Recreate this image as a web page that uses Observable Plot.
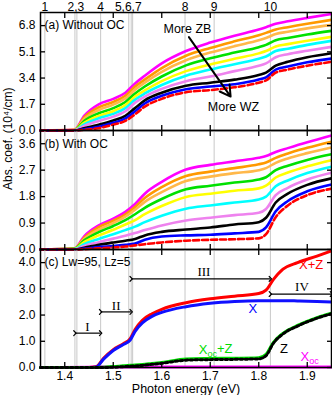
<!DOCTYPE html>
<html><head><meta charset="utf-8">
<script src="https://cdn.jsdelivr.net/npm/d3@7"></script>
<script src="https://cdn.jsdelivr.net/npm/@observablehq/plot@0.6"></script>
<style>
body{margin:0;background:#fff;}
#chart{position:relative;width:332px;height:395px;}
#chart svg{position:absolute;left:0;overflow:visible;}
</style></head><body><div id="chart"></div>
<script>
// ---------- shared axes / reference lines ----------
const xDomain = [1.35, 1.95];
const xTicks = [1.4, 1.5, 1.6, 1.7, 1.8, 1.9];
const gridLines = [1.359, 1.421, 1.425, 1.474, 1.532, 1.537, 1.540, 1.648, 1.708, 1.824];
const topLabels = ["1", "2,3", "4", "5,6,7", "8", "9", "10"];
const topLabelE = [1.359, 1.423, 1.474, 1.531, 1.648, 1.708, 1.824];

// ---------- panels (a) and (b): energies ----------
const energyAB = [1.35, 1.42, 1.44, 1.47, 1.50, 1.525, 1.545, 1.565, 1.60, 1.65, 1.70, 1.75, 1.80, 1.815, 1.835, 1.86, 1.90, 1.95];

// panel (a) Without OC
const a_magenta = [0, 0.05, 0.95, 1.70, 2.05, 2.45, 3.05, 3.55, 4.35, 5.15, 5.70, 6.15, 6.55, 6.70, 6.92, 7.08, 7.30, 7.55];
const a_orange  = [0, 0.04, 0.85, 1.50, 1.85, 2.25, 2.85, 3.30, 4.05, 4.85, 5.35, 5.78, 6.18, 6.33, 6.55, 6.70, 6.92, 7.17];
const a_gold    = [0, 0.03, 0.75, 1.33, 1.68, 2.08, 2.65, 3.10, 3.80, 4.55, 5.05, 5.47, 5.85, 6.00, 6.25, 6.40, 6.62, 6.85];
const a_green   = [0, 0.02, 0.62, 1.12, 1.45, 1.85, 2.40, 2.85, 3.50, 4.22, 4.68, 5.05, 5.40, 5.55, 5.85, 6.00, 6.22, 6.46];
const a_yellow  = [0, 0.02, 0.50, 0.95, 1.25, 1.65, 2.20, 2.60, 3.20, 3.85, 4.28, 4.65, 5.00, 5.15, 5.45, 5.60, 5.82, 6.07];
const a_cyan    = [0, 0.01, 0.40, 0.80, 1.08, 1.45, 2.00, 2.40, 2.95, 3.55, 3.95, 4.30, 4.65, 4.80, 5.15, 5.30, 5.55, 5.81];
const a_violet  = [0, 0.01, 0.30, 0.62, 0.90, 1.25, 1.80, 2.20, 2.70, 3.20, 3.50, 3.85, 4.20, 4.35, 4.75, 4.95, 5.17, 5.42];
const a_black   = [0, 0, 0.15, 0.38, 0.65, 0.95, 1.45, 1.95, 2.45, 2.90, 3.10, 3.30, 3.60, 3.75, 4.20, 4.45, 4.75, 5.01];
const a_blue    = [0, 0, 0.08, 0.25, 0.50, 0.78, 1.25, 1.75, 2.25, 2.68, 2.85, 3.00, 3.30, 3.45, 3.95, 4.15, 4.42, 4.66];
const a_red     = [0, 0, 0.04, 0.15, 0.38, 0.62, 1.05, 1.55, 2.05, 2.48, 2.62, 2.80, 3.10, 3.25, 3.75, 3.95, 4.20, 4.45];

// panel (b) With OC
const b_magenta = [0, 0.03, 0.45, 0.82, 1.05, 1.28, 1.55, 1.90, 2.30, 2.72, 2.88, 3.00, 3.12, 3.18, 3.32, 3.45, 3.65, 3.88];
const b_orange  = [0, 0.03, 0.40, 0.76, 0.98, 1.20, 1.45, 1.75, 2.12, 2.50, 2.65, 2.77, 2.90, 2.96, 3.12, 3.27, 3.46, 3.67];
const b_gold    = [0, 0.02, 0.36, 0.68, 0.90, 1.12, 1.35, 1.62, 1.95, 2.33, 2.48, 2.60, 2.70, 2.77, 2.95, 3.10, 3.28, 3.47];
const b_green   = [0, 0.02, 0.31, 0.59, 0.80, 1.00, 1.20, 1.42, 1.72, 2.05, 2.17, 2.28, 2.38, 2.46, 2.70, 2.85, 3.05, 3.24];
const b_yellow  = [0, 0.01, 0.25, 0.48, 0.67, 0.85, 1.00, 1.20, 1.48, 1.79, 1.90, 2.00, 2.08, 2.17, 2.45, 2.62, 2.83, 3.04];
const b_cyan    = [0, 0.01, 0.18, 0.36, 0.52, 0.66, 0.78, 0.93, 1.15, 1.39, 1.50, 1.60, 1.70, 1.80, 2.15, 2.35, 2.60, 2.82];
const b_violet  = [0, 0, 0.12, 0.25, 0.37, 0.47, 0.56, 0.66, 0.82, 0.99, 1.08, 1.17, 1.25, 1.38, 1.85, 2.10, 2.38, 2.61];
const b_black   = [0, 0, 0.06, 0.16, 0.24, 0.30, 0.36, 0.48, 0.60, 0.68, 0.75, 0.85, 0.93, 1.08, 1.60, 1.90, 2.20, 2.42];
const b_blue    = [0, 0, 0.03, 0.08, 0.12, 0.16, 0.20, 0.33, 0.44, 0.48, 0.50, 0.55, 0.60, 0.75, 1.30, 1.65, 1.98, 2.21];
const b_red     = [0, 0, 0.01, 0.04, 0.07, 0.10, 0.14, 0.18, 0.24, 0.30, 0.33, 0.35, 0.38, 0.52, 1.10, 1.50, 1.85, 2.07];

const seriesColors = ["#ff00ff", "#ff9900", "#ffb84a", "#00e000", "#ffff00", "#00ffff", "#ee82ee", "#000000", "#0000ff", "#ff0000"];

// ---------- panel (c) Lw=95, Lz=5 ----------
const energyC = [1.35, 1.45, 1.465, 1.48, 1.50, 1.52, 1.535, 1.545, 1.56, 1.58, 1.60, 1.65, 1.70, 1.75, 1.80, 1.815, 1.83, 1.85, 1.88, 1.92, 1.95];
const c_XZ   = [0, 0, 0.03, 0.35, 0.68, 0.90, 1.10, 1.45, 1.80, 2.05, 2.22, 2.47, 2.62, 2.72, 2.82, 2.95, 3.35, 3.75, 4.00, 4.25, 4.45];
const c_X    = [0, 0, 0.02, 0.32, 0.65, 0.87, 1.05, 1.38, 1.70, 1.95, 2.10, 2.32, 2.45, 2.52, 2.55, 2.55, 2.55, 2.55, 2.54, 2.52, 2.50];
const c_XocZ = [0, 0, 0, 0.01, 0.03, 0.06, 0.08, 0.09, 0.11, 0.15, 0.19, 0.32, 0.34, 0.35, 0.37, 0.50, 0.95, 1.30, 1.60, 1.90, 2.07];
const c_Z    = [0, 0, 0, 0, 0.01, 0.03, 0.05, 0.06, 0.08, 0.12, 0.16, 0.28, 0.30, 0.31, 0.33, 0.45, 0.92, 1.28, 1.58, 1.88, 2.05];
const c_Xoc  = [0, 0.01, 0.02, 0.02, 0.02, 0.02, 0.02, 0.02, 0.02, 0.02, 0.02, 0.02, 0.02, 0.02, 0.02, 0.02, 0.02, 0.02, 0.02, 0.02, 0.02];

const yTicksA = [0, 1.7, 3.4, 5.1, 6.8];
const yTicksB = [0, 0.9, 1.8, 2.7, 3.6];
const yTicksC = [0, 1, 2, 3, 4];

// annotations
const arrowA = [{x1: 1.656, y1: 6.05, x2: 1.742, y2: 2.2}];
const textA = [{E: 1.653, v: 6.56, t: "More ZB"}, {E: 1.748, v: 1.51, t: "More WZ"}];
const rangesC = [
  {e1: 1.421, e2: 1.474, v: 1.31, t: "I", te: 1.447, tv: 1.55},
  {e1: 1.474, e2: 1.537, v: 2.12, t: "II", te: 1.506, tv: 2.36},
  {e1: 1.537, e2: 1.824, v: 3.38, t: "III", te: 1.687, tv: 3.64},
  {e1: 1.824, e2: 1.950, v: 2.80, t: "IV", te: 1.889, tv: 3.08}
];
const labelsC = [
  {E: 1.908, v: 3.90, t: "X+Z", c: "#ff0000", a: "middle"},
  {E: 1.788, v: 2.25, t: "X", c: "#0000ff", a: "middle"},
  {E: 1.711, v: 0.68, t: "X_oc+Z", c: "#00dd00", a: "start"},
  {E: 1.852, v: 0.71, t: "Z", c: "#000000", a: "middle"},
  {E: 1.905, v: 0.40, t: "X_oc", c: "#ff00ff", a: "start"}
];

// ---------- helpers ----------
const toRows = (E, vals) => E.map((e, i) => ({E: e, v: vals[i]}));
const FONT = "Liberation Sans, Arial, sans-serif";

function panel({yDomain, yTicks, height, marginTop, marginBottom, marks, xLabels}) {
  return Plot.plot({
    width: 332, height, marginLeft: 40, marginRight: 1, marginTop, marginBottom,
    x: {domain: xDomain, label: null},
    y: {domain: yDomain, label: null},
    style: {fontFamily: FONT, fontSize: "12px", background: "transparent", overflow: "visible", color: "black"},
    marks: [
      Plot.ruleX(gridLines, {stroke: "#c8c8c8", strokeWidth: 1}),
      ...marks,
      Plot.frame({stroke: "black", strokeWidth: 1.5}),
      Plot.axisX({anchor: "bottom", ticks: xTicks, tickSize: -5, tickPadding: 9, strokeWidth: 1.3,
                  tickFormat: xLabels ? (d => d.toFixed(1)) : (() => ""), fontSize: 12}),
      Plot.axisX({anchor: "top", ticks: xTicks, tickSize: -5, strokeWidth: 1.3, tickFormat: () => ""}),
      Plot.axisY({anchor: "left", ticks: yTicks, tickSize: -5, tickPadding: 10, strokeWidth: 1.3,
                  tickFormat: d => d.toFixed(1), fontSize: 12}),
      Plot.axisY({anchor: "right", ticks: yTicks, tickSize: -5, strokeWidth: 1.3, tickFormat: () => ""})
    ]
  });
}

function fanMarks(arrs) {
  const marks = [];
  arrs.forEach((vals, i) => {
    const isRed = i === arrs.length - 1;
    marks.push(Plot.line(toRows(energyAB, vals), {
      x: "E", y: "v", stroke: seriesColors[i], strokeWidth: 2.6, curve: "monotone-x",
      strokeDasharray: isRed ? "6,3" : null
    }));
  });
  return marks;
}

// ---------- panel (a) ----------
const pa = panel({
  yDomain: [0, 7.65], yTicks: yTicksA, height: 130, marginTop: 12, marginBottom: 0,
  marks: [
    ...fanMarks([a_magenta, a_orange, a_gold, a_green, a_yellow, a_cyan, a_violet, a_black, a_blue, a_red]),
    Plot.text(topLabels.map((t, i) => ({t, E: topLabelE[i]})), {x: "E", text: "t", frameAnchor: "top", dy: -5.5, lineAnchor: "middle", fontSize: 12}),
    Plot.text(["(a) Without OC"], {text: d => d, frameAnchor: "top-left", dx: 4, dy: 13, textAnchor: "start", lineAnchor: "middle", fontSize: 12}),
    Plot.arrow(arrowA, {x1: "x1", y1: "y1", x2: "x2", y2: "y2", stroke: "black", strokeWidth: 2, headLength: 9}),
    Plot.text(textA, {x: "E", y: "v", text: "t", fontSize: 12.5, lineAnchor: "middle"})
  ]
});

// ---------- panel (b) ----------
const pb = panel({
  yDomain: [0, 4.05], yTicks: yTicksB, height: 119, marginTop: 0, marginBottom: 0,
  marks: [
    ...fanMarks([b_magenta, b_orange, b_gold, b_green, b_yellow, b_cyan, b_violet, b_black, b_blue, b_red]),
    Plot.text(["(b) With OC"], {text: d => d, frameAnchor: "top-left", dx: 4, dy: 14, textAnchor: "start", lineAnchor: "middle", fontSize: 12}),
    Plot.text(["Abs. coef. (10⁴/cm)"], {text: d => d, frameAnchor: "left", rotate: -90, dx: -32, fontSize: 12})
  ]
});

// ---------- panel (c) ----------
const pc = panel({
  yDomain: [0, 4.5], yTicks: yTicksC, height: 146, marginTop: 0, marginBottom: 28, xLabels: true,
  marks: [
    Plot.line(toRows(energyC, c_Xoc), {x: "E", y: "v", stroke: "#ff00ff", strokeWidth: 3, curve: "monotone-x"}),
    Plot.line(toRows(energyC, c_XZ), {x: "E", y: "v", stroke: "#ff0000", strokeWidth: 3, curve: "monotone-x"}),
    Plot.line(toRows(energyC, c_X), {x: "E", y: "v", stroke: "#1010ff", strokeWidth: 3, curve: "monotone-x"}),
    Plot.line(toRows(energyC, c_XocZ), {x: "E", y: "v", stroke: "#00dd00", strokeWidth: 3.2, curve: "monotone-x"}),
    Plot.line(toRows(energyC, c_Z), {x: "E", y: "v", stroke: "#000000", strokeWidth: 3, strokeDasharray: "2.5,2.5", curve: "monotone-x"}),
    Plot.link(rangesC, {x1: "e1", x2: "e2", y1: "v", y2: "v", stroke: "black", strokeWidth: 1.2, markerStart: "arrow", markerEnd: "arrow"}),
    Plot.text(rangesC, {x: "te", y: "tv", text: "t", fontFamily: "Liberation Serif, Times New Roman, serif", fontSize: 13, lineAnchor: "middle"}),
    Plot.text(labelsC, {x: "E", y: "v", text: "t", fill: "c", textAnchor: "a", fontSize: 13, lineAnchor: "middle"}),
    Plot.text(["(c) Lw=95, Lz=5"], {text: d => d, frameAnchor: "top-left", dx: 4, dy: 13, textAnchor: "start", lineAnchor: "middle", fontSize: 12}),
    Plot.text(["Photon energy (eV)"], {text: d => d, frameAnchor: "bottom", dy: 21, lineAnchor: "middle", fontSize: 12.5})
  ]
});

// subscripts: turn "X_oc..." into X + subscript
function subscripts(svg) {
  d3.select(svg).selectAll("text").each(function () {
    const t = this.textContent;
    if (!t.includes("_") || this.children.length > 1) return;
    const [head, rest] = t.split("_");
    const sub = rest.slice(0, 2), tail = rest.slice(2);
    const el = d3.select(this);
    el.text(null);
    el.append("tspan").text(head);
    el.append("tspan").attr("dy", "0.3em").attr("font-size", "9px").text(sub);
    if (tail) el.append("tspan").attr("dy", "-0.3em").text(tail);
  });
}
subscripts(pc);

const chart = document.getElementById("chart");
[[pa, 0], [pb, 130], [pc, 249]].forEach(([svg, top]) => {
  svg.style.top = top + "px";
  chart.appendChild(svg);
});
</script>
</body></html>
